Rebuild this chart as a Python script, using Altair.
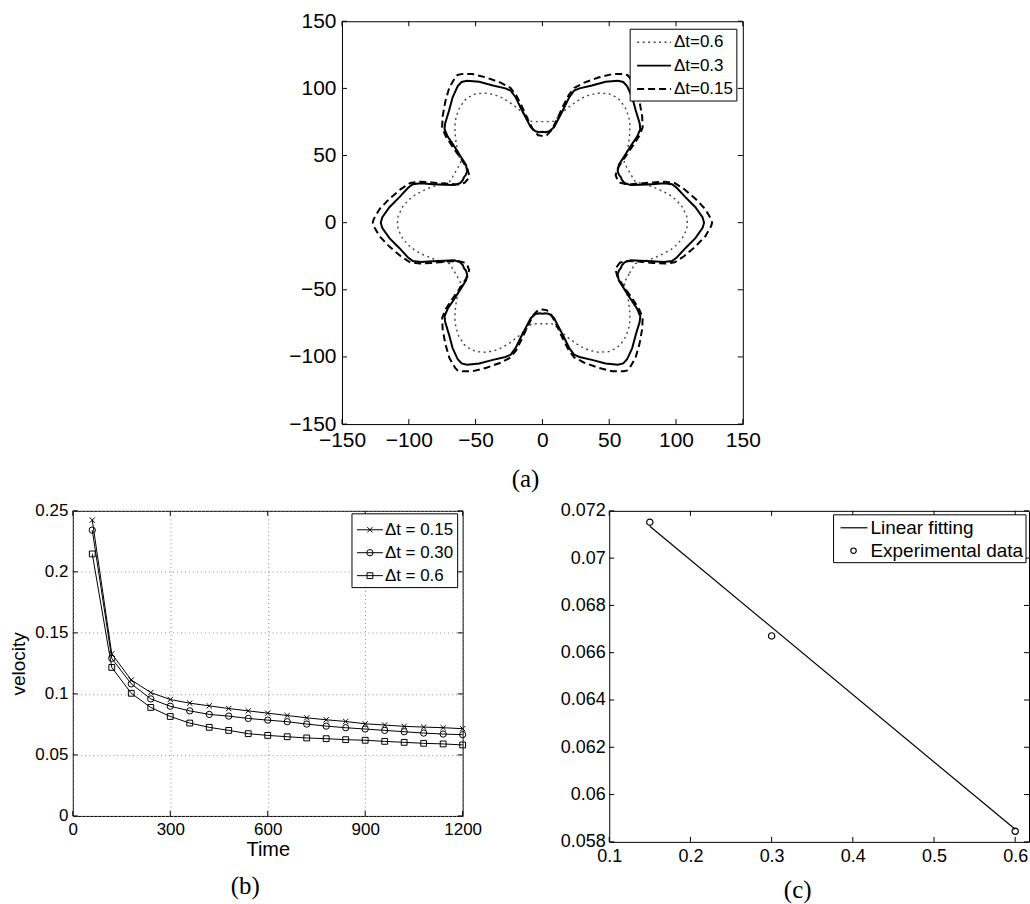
import altair as alt
import numpy as np
import pandas as pd

FONT = "Liberation Sans"
SERIF = "Liberation Serif"

# ---------------- Panel (a): contour ----------------
# one half-lobe (from lobe tip at 0 deg to notch at 30 deg), x/y in plot units;
# the contour has six-fold mirror symmetry, the rest is obtained by reflection/rotation
sect_x_06 = [108.5, 108.0, 104.5, 100.0, 95.5, 90.0, 83.0, 76.0, 72.0, 69.5, 67.3, 65.2]
sect_y_06 = [0.0, 5.0, 12.0, 17.0, 20.5, 23.5, 26.5, 28.8, 29.8, 30.5, 34.0, 37.6]
sect_x_03 = [121.0, 119.8, 114.5, 107.0, 100.5, 97.0, 91.0, 82.0, 73.5, 66.0, 61.5, 59.5, 58.7]
sect_y_03 = [0.0, 4.0, 11.5, 19.0, 26.0, 28.6, 29.3, 28.7, 28.3, 28.0, 29.5, 31.8, 33.9]
sect_x_015 = [127.0, 126.3, 122.0, 114.5, 106.0, 99.0, 92.0, 83.0, 72.0, 63.0, 58.0, 56.0]
sect_y_015 = [0.0, 2.5, 10.0, 17.8, 25.0, 29.5, 30.5, 30.0, 29.0, 28.5, 29.8, 32.3]
labels_a = ["\u0394t=0.6", "\u0394t=0.3", "\u0394t=0.15"]
ticks_a = [-150, -100, -50, 0, 50, 100, 150]

# ---------------- Panel (b) ----------------
time_b = [60, 120, 180, 240, 300, 360, 420, 480, 540, 600,
          660, 720, 780, 840, 900, 960, 1020, 1080, 1140, 1200]
vel_015 = [0.2424, 0.1328, 0.1114, 0.1011, 0.0954, 0.0924, 0.0902, 0.0880, 0.0861, 0.0842,
           0.0823, 0.0804, 0.0788, 0.0774, 0.0755, 0.0745, 0.0734, 0.0728, 0.0723, 0.0715]
vel_030 = [0.2342, 0.1291, 0.1082, 0.0959, 0.0899, 0.0861, 0.0832, 0.0818, 0.0799, 0.0785,
           0.0772, 0.0753, 0.0736, 0.0723, 0.0712, 0.0701, 0.0690, 0.0679, 0.0671, 0.0666]
vel_06 = [0.2147, 0.1217, 0.1005, 0.0889, 0.0815, 0.0761, 0.0726, 0.0701, 0.0674, 0.0660,
          0.0649, 0.0639, 0.0633, 0.0625, 0.0620, 0.0611, 0.0603, 0.0595, 0.0590, 0.0582]
labels_b = ["\u0394t = 0.15", "\u0394t = 0.30", "\u0394t = 0.6"]
xticks_b = [0, 300, 600, 900, 1200]
yticks_b = [0, 0.05, 0.1, 0.15, 0.2, 0.25]

# ---------------- Panel (c) ----------------
dt_c = [0.15, 0.3, 0.6]
vel_c = [0.07152, 0.06671, 0.05845]
fit_x = [0.15, 0.6]
fit_y = [0.07135, 0.05853]
labels_c = ["Linear fitting", "Experimental data"]
xticks_c = [0.1, 0.2, 0.3, 0.4, 0.5, 0.6]
yticks_c = [0.058, 0.06, 0.062, 0.064, 0.066, 0.068, 0.07, 0.072]

captions = ["(a)", "(b)", "(c)"]

W_A, H_A = 402, 404
W_B, H_B = 391, 306
W_C, H_C = 421, 332
TL = 5  # inward tick length


def build_contour(sx, sy):
    half = list(zip(sx, sy))
    lobe = [(x, -y) for x, y in reversed(half[1:])] + half
    pts = []
    for k in range(6):
        a = np.deg2rad(60 * k)
        c, s = np.cos(a), np.sin(a)
        seg = lobe if k == 0 else lobe[1:]
        for x, y in seg:
            pts.append((x * c - y * s, x * s + y * c))
    return pd.DataFrame({"x": [p[0] for p in pts], "y": [p[1] for p in pts],
                         "i": list(range(len(pts)))})


def one():
    return alt.Chart(pd.DataFrame({"k": [0]}))


def inward_ticks(xv, yv, xs, ys, W, H):
    dx = pd.DataFrame({"x": xv})
    dy = pd.DataFrame({"y": yv})
    X = alt.X("x:Q", scale=xs)
    Y = alt.Y("y:Q", scale=ys)
    r = dict(color="black", strokeWidth=1)
    return [
        alt.Chart(dx).mark_rule(**r).encode(x=X, y=alt.value(0), y2=alt.value(TL)),
        alt.Chart(dx).mark_rule(**r).encode(x=X, y=alt.value(H), y2=alt.value(H - TL)),
        alt.Chart(dy).mark_rule(**r).encode(y=Y, x=alt.value(0), x2=alt.value(TL)),
        alt.Chart(dy).mark_rule(**r).encode(y=Y, x=alt.value(W), x2=alt.value(W - TL)),
    ]


def legend_box(x1, y1, x2, y2):
    return one().mark_rect(fill="white", stroke="black", strokeWidth=1).encode(
        x=alt.value(x1), x2=alt.value(x2), y=alt.value(y1), y2=alt.value(y2))


def legend_text(label, x, y, size, font=FONT, align="left"):
    return alt.Chart(pd.DataFrame({"t": [label]})).mark_text(
        align=align, baseline="middle", font=font, fontSize=size, color="black"
    ).encode(x=alt.value(x), y=alt.value(y), text="t:N")


def axis(values, size, fmt, pad, **kw):
    return alt.Axis(values=values, format=fmt, labelFont=FONT, labelFontSize=size,
                    labelColor="black", ticks=False, domain=False, labelPadding=pad,
                    labelOverlap=False, labelFlush=False, **kw)


# ================= Panel (a) =================
xs_a = alt.Scale(domain=[-150, 150], nice=False, zero=False)
ys_a = alt.Scale(domain=[-150, 150], nice=False, zero=False)
styles_a = [
    dict(color="#444444", strokeWidth=1.4, strokeDash=[2, 3.5]),
    dict(color="black", strokeWidth=2),
    dict(color="black", strokeWidth=2, strokeDash=[7, 4]),
]
curves = [build_contour(sect_x_06, sect_y_06),
          build_contour(sect_x_03, sect_y_03),
          build_contour(sect_x_015, sect_y_015)]
layers_a = []
for n, (dfc, st) in enumerate(zip(curves, styles_a)):
    if n == 0:
        X = alt.X("x:Q", scale=xs_a, axis=axis(ticks_a, 21, "d", 5, grid=False, title=None))
        Y = alt.Y("y:Q", scale=ys_a, axis=axis(ticks_a, 21, "d", 6, grid=False, title=None))
    else:
        X = alt.X("x:Q", scale=xs_a)
        Y = alt.Y("y:Q", scale=ys_a)
    layers_a.append(alt.Chart(dfc).mark_line(**st).encode(x=X, y=Y, order="i:Q"))
layers_a += inward_ticks(ticks_a, ticks_a, xs_a, ys_a, W_A, H_A)
layers_a.append(legend_box(289, 8, 396, 80))
for k, (lab, st) in enumerate(zip(labels_a, styles_a)):
    yy = 21 + k * 23.5
    layers_a.append(one().mark_rule(**st).encode(
        x=alt.value(296), x2=alt.value(330), y=alt.value(yy)))
    layers_a.append(legend_text(lab, 333, yy, 17))
layers_a.append(legend_text(captions[0], 184, 459, 25, font=SERIF, align="center"))

panel_a = alt.layer(*layers_a).properties(width=W_A, height=H_A)

# ================= Panel (b) =================
xs_b = alt.Scale(domain=[0, 1200], nice=False, zero=False)
ys_b = alt.Scale(domain=[0, 0.25], nice=False, zero=False)
df_b = pd.DataFrame({"x": time_b * 3,
                     "y": vel_015 + vel_030 + vel_06,
                     "s": [labels_b[0]] * 20 + [labels_b[1]] * 20 + [labels_b[2]] * 20})
X_SHAPE = "M-1,-1L1,1M-1,1L1,-1"
shapes_b = [X_SHAPE, "circle", "square"]
sizes_b = [28, 40, 34]
grid_kw = dict(grid=True, gridColor="#8c8c8c", gridDash=[1, 3], gridWidth=1)
layers_b = []
for k, lab in enumerate(labels_b):
    sub = df_b[df_b["s"] == lab]
    if k == 0:
        X = alt.X("x:Q", scale=xs_b, axis=axis(xticks_b, 17, "d", 6, title="Time",
                                                titleFont=FONT, titleFontSize=20,
                                                titleFontWeight="normal", titleColor="black",
                                                titlePadding=2, **grid_kw))
        Y = alt.Y("y:Q", scale=ys_b, axis=axis(yticks_b, 17, "~g", 5, title="velocity",
                                                titleFont=FONT, titleFontSize=19,
                                                titleFontWeight="normal", titleColor="black",
                                                titlePadding=6, **grid_kw))
    else:
        X = alt.X("x:Q", scale=xs_b)
        Y = alt.Y("y:Q", scale=ys_b)
    layers_b.append(alt.Chart(sub).mark_line(color="black", strokeWidth=1).encode(x=X, y=Y))
    layers_b.append(alt.Chart(sub).mark_point(shape=shapes_b[k], size=sizes_b[k], filled=False,
                                              color="black", strokeWidth=1, opacity=1)
                    .encode(x=alt.X("x:Q", scale=xs_b), y=alt.Y("y:Q", scale=ys_b)))
layers_b += inward_ticks(xticks_b, yticks_b, xs_b, ys_b, W_B, H_B)
layers_b.append(legend_box(280, 3, 386, 77))
for k, lab in enumerate(labels_b):
    yy = 19 + k * 23
    layers_b.append(one().mark_rule(color="black", strokeWidth=1).encode(
        x=alt.value(285), x2=alt.value(311), y=alt.value(yy)))
    layers_b.append(one().mark_point(shape=shapes_b[k], size=sizes_b[k], filled=False,
                                     color="black", strokeWidth=1, opacity=1).encode(
        x=alt.value(298), y=alt.value(yy)))
    layers_b.append(legend_text(lab, 313, yy, 17))
layers_b.append(legend_text(captions[1], 173, 376, 25, font=SERIF, align="center"))

panel_b = alt.layer(*layers_b).properties(width=W_B, height=H_B)

# ================= Panel (c) =================
xs_c = alt.Scale(domain=[0.1, 0.617], nice=False, zero=False)
ys_c = alt.Scale(domain=[0.058, 0.072], nice=False, zero=False)
df_fit = pd.DataFrame({"x": fit_x, "y": fit_y})
df_pts = pd.DataFrame({"x": dt_c, "y": vel_c})
layers_c = [
    alt.Chart(df_fit).mark_line(color="black", strokeWidth=1.2).encode(
        x=alt.X("x:Q", scale=xs_c, axis=axis(xticks_c, 18, ".1f", 6, grid=False, title=None)),
        y=alt.Y("y:Q", scale=ys_c, axis=axis(yticks_c, 18, ".3~f", 4, grid=False, title=None))),
    alt.Chart(df_pts).mark_point(shape="circle", size=40, filled=False, color="black",
                                 strokeWidth=1.2, opacity=1).encode(
        x=alt.X("x:Q", scale=xs_c), y=alt.Y("y:Q", scale=ys_c)),
]
layers_c += inward_ticks(xticks_c, yticks_c, xs_c, ys_c, W_C, H_C)
layers_c.append(legend_box(225, 4, 418, 52))
layers_c.append(one().mark_rule(color="black", strokeWidth=1.2).encode(
    x=alt.value(232), x2=alt.value(259), y=alt.value(17)))
layers_c.append(legend_text(labels_c[0], 262, 17, 19))
layers_c.append(one().mark_point(shape="circle", size=30, filled=False, color="black",
                                 strokeWidth=1.2, opacity=1).encode(
    x=alt.value(245), y=alt.value(40)))
layers_c.append(legend_text(labels_c[1], 262, 40, 19))
layers_c.append(legend_text(captions[2], 189, 380, 25, font=SERIF, align="center"))

panel_c = alt.layer(*layers_c).properties(width=W_C, height=H_C)

bottom = alt.hconcat(panel_b, panel_c, spacing=77)
chart = alt.vconcat(panel_a, bottom, spacing=8, center=True).properties(
    padding={"left": 9, "top": 8, "right": 0, "bottom": 0},
    background="white",
).configure_view(stroke="black", strokeWidth=1)

chart.save("out.html", embed_options={"renderer": "svg", "actions": False})
